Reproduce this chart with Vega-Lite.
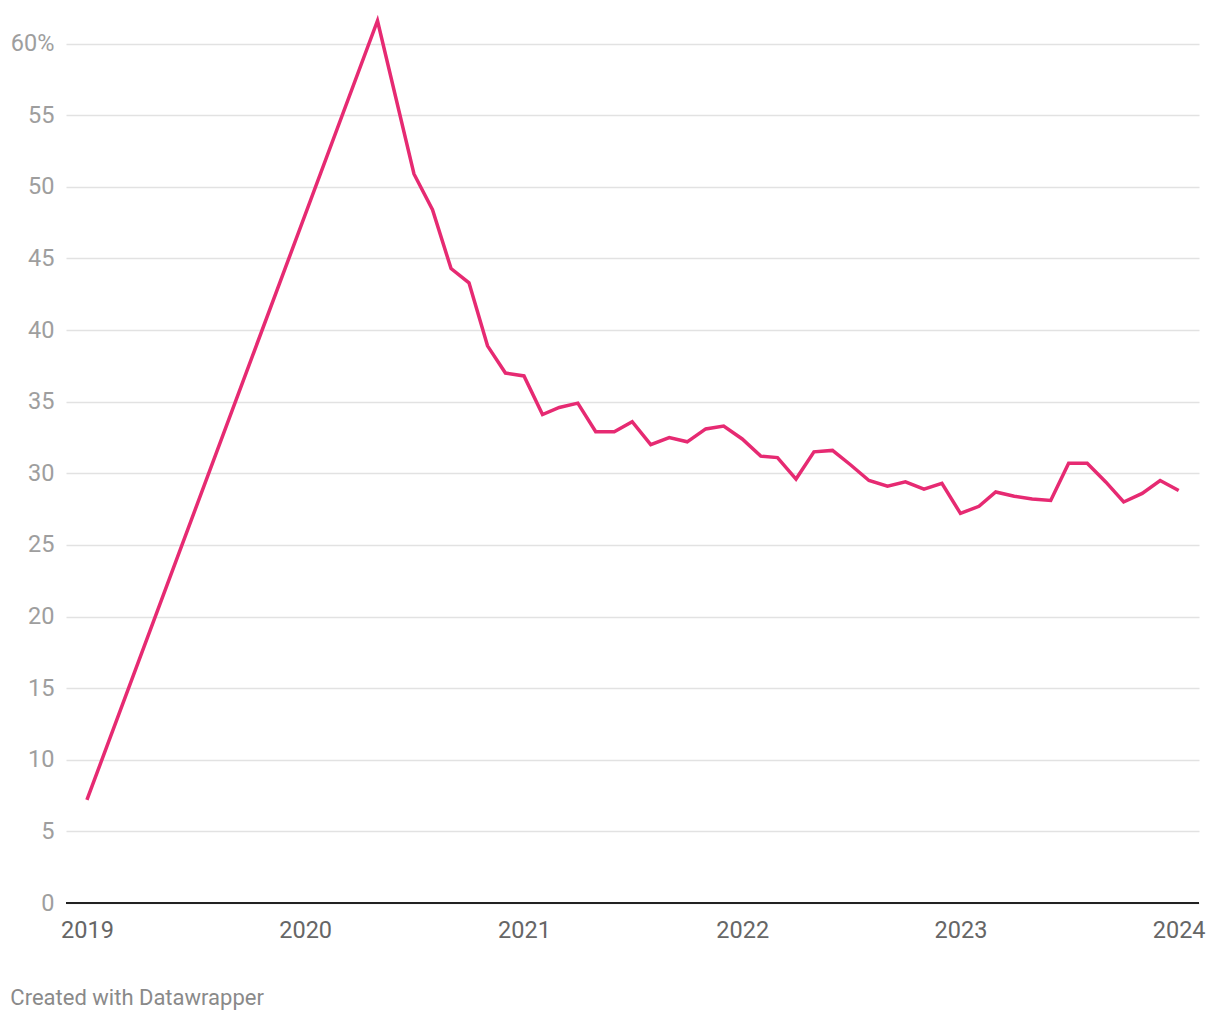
{
  "$schema": "https://vega.github.io/schema/vega-lite/v6.json",
  "width": 1133,
  "height": 888,
  "autosize": {"type": "none"},
  "padding": {"left": 66, "top": 15, "right": 21, "bottom": 117},
  "background": "white",
  "config": {
    "font": "Roboto",
    "view": {"stroke": null},
    "axis": {"labelFont": "Roboto", "labelFontSize": 23.5}
  },
  "title": {
    "text": "Created with Datawrapper",
    "orient": "bottom",
    "anchor": "start",
    "frame": "bounds",
    "font": "Roboto",
    "fontSize": 22,
    "fontWeight": "normal",
    "color": "#8a8a8a",
    "offset": 46
  },
  "data": {
    "values": [
      {"date": "2019-01-01", "value": 7.2},
      {"date": "2020-05-01", "value": 61.6},
      {"date": "2020-07-01", "value": 50.9},
      {"date": "2020-08-01", "value": 48.4},
      {"date": "2020-09-01", "value": 44.3},
      {"date": "2020-10-01", "value": 43.3},
      {"date": "2020-11-01", "value": 38.9},
      {"date": "2020-12-01", "value": 37.0},
      {"date": "2021-01-01", "value": 36.8},
      {"date": "2021-02-01", "value": 34.1},
      {"date": "2021-03-01", "value": 34.6},
      {"date": "2021-04-01", "value": 34.9},
      {"date": "2021-05-01", "value": 32.9},
      {"date": "2021-06-01", "value": 32.9},
      {"date": "2021-07-01", "value": 33.6},
      {"date": "2021-08-01", "value": 32.0},
      {"date": "2021-09-01", "value": 32.5},
      {"date": "2021-10-01", "value": 32.2},
      {"date": "2021-11-01", "value": 33.1},
      {"date": "2021-12-01", "value": 33.3},
      {"date": "2022-01-01", "value": 32.4},
      {"date": "2022-02-01", "value": 31.2},
      {"date": "2022-03-01", "value": 31.1},
      {"date": "2022-04-01", "value": 29.6},
      {"date": "2022-05-01", "value": 31.5},
      {"date": "2022-06-01", "value": 31.6},
      {"date": "2022-07-01", "value": 30.6},
      {"date": "2022-08-01", "value": 29.5},
      {"date": "2022-09-01", "value": 29.1},
      {"date": "2022-10-01", "value": 29.4},
      {"date": "2022-11-01", "value": 28.9},
      {"date": "2022-12-01", "value": 29.3},
      {"date": "2023-01-01", "value": 27.2},
      {"date": "2023-02-01", "value": 27.7},
      {"date": "2023-03-01", "value": 28.7},
      {"date": "2023-04-01", "value": 28.4},
      {"date": "2023-05-01", "value": 28.2},
      {"date": "2023-06-01", "value": 28.1},
      {"date": "2023-07-01", "value": 30.7},
      {"date": "2023-08-01", "value": 30.7},
      {"date": "2023-09-01", "value": 29.4},
      {"date": "2023-10-01", "value": 28.0},
      {"date": "2023-11-01", "value": 28.6},
      {"date": "2023-12-01", "value": 29.5},
      {"date": "2024-01-01", "value": 28.8}
    ]
  },
  "layer": [
    {
      "mark": {"type": "line", "color": "#e62a72", "strokeWidth": 3.5, "strokeJoin": "miter", "clip": false},
      "encoding": {
        "x": {
          "field": "date",
          "type": "temporal",
          "scale": {
            "type": "utc",
            "domain": [
              {"year": 2018, "month": 11, "date": 27, "utc": true},
              {"year": 2024, "month": 2, "date": 4, "utc": true}
            ]
          },
          "axis": {
            "title": null,
            "format": "%Y",
            "values": [
              {"year": 2019, "month": 1, "date": 1, "utc": true},
              {"year": 2020, "month": 1, "date": 1, "utc": true},
              {"year": 2021, "month": 1, "date": 1, "utc": true},
              {"year": 2022, "month": 1, "date": 1, "utc": true},
              {"year": 2023, "month": 1, "date": 1, "utc": true},
              {"year": 2024, "month": 1, "date": 1, "utc": true}
            ],
            "domain": false,
            "ticks": false,
            "grid": false,
            "labelColor": "#666666",
            "labelPadding": 15,
            "labelFlush": false,
            "labelOverlap": false
          }
        },
        "y": {
          "field": "value",
          "type": "quantitative",
          "scale": {"domain": [0, 62], "nice": false},
          "axis": {
            "title": null,
            "values": [0, 5, 10, 15, 20, 25, 30, 35, 40, 45, 50, 55, 60],
            "labelExpr": "datum.value == 60 ? '60%' : datum.label",
            "domain": false,
            "ticks": false,
            "grid": true,
            "gridColor": "#e2e2e2",
            "gridWidth": 1.5,
            "labelColor": "#9e9e9e",
            "labelPadding": 12,
            "labelFlush": false,
            "labelOverlap": false
          }
        }
      }
    },
    {
      "mark": {"type": "rule", "color": "#222222", "strokeWidth": 2},
      "encoding": {"y": {"datum": 0}}
    }
  ]
}
